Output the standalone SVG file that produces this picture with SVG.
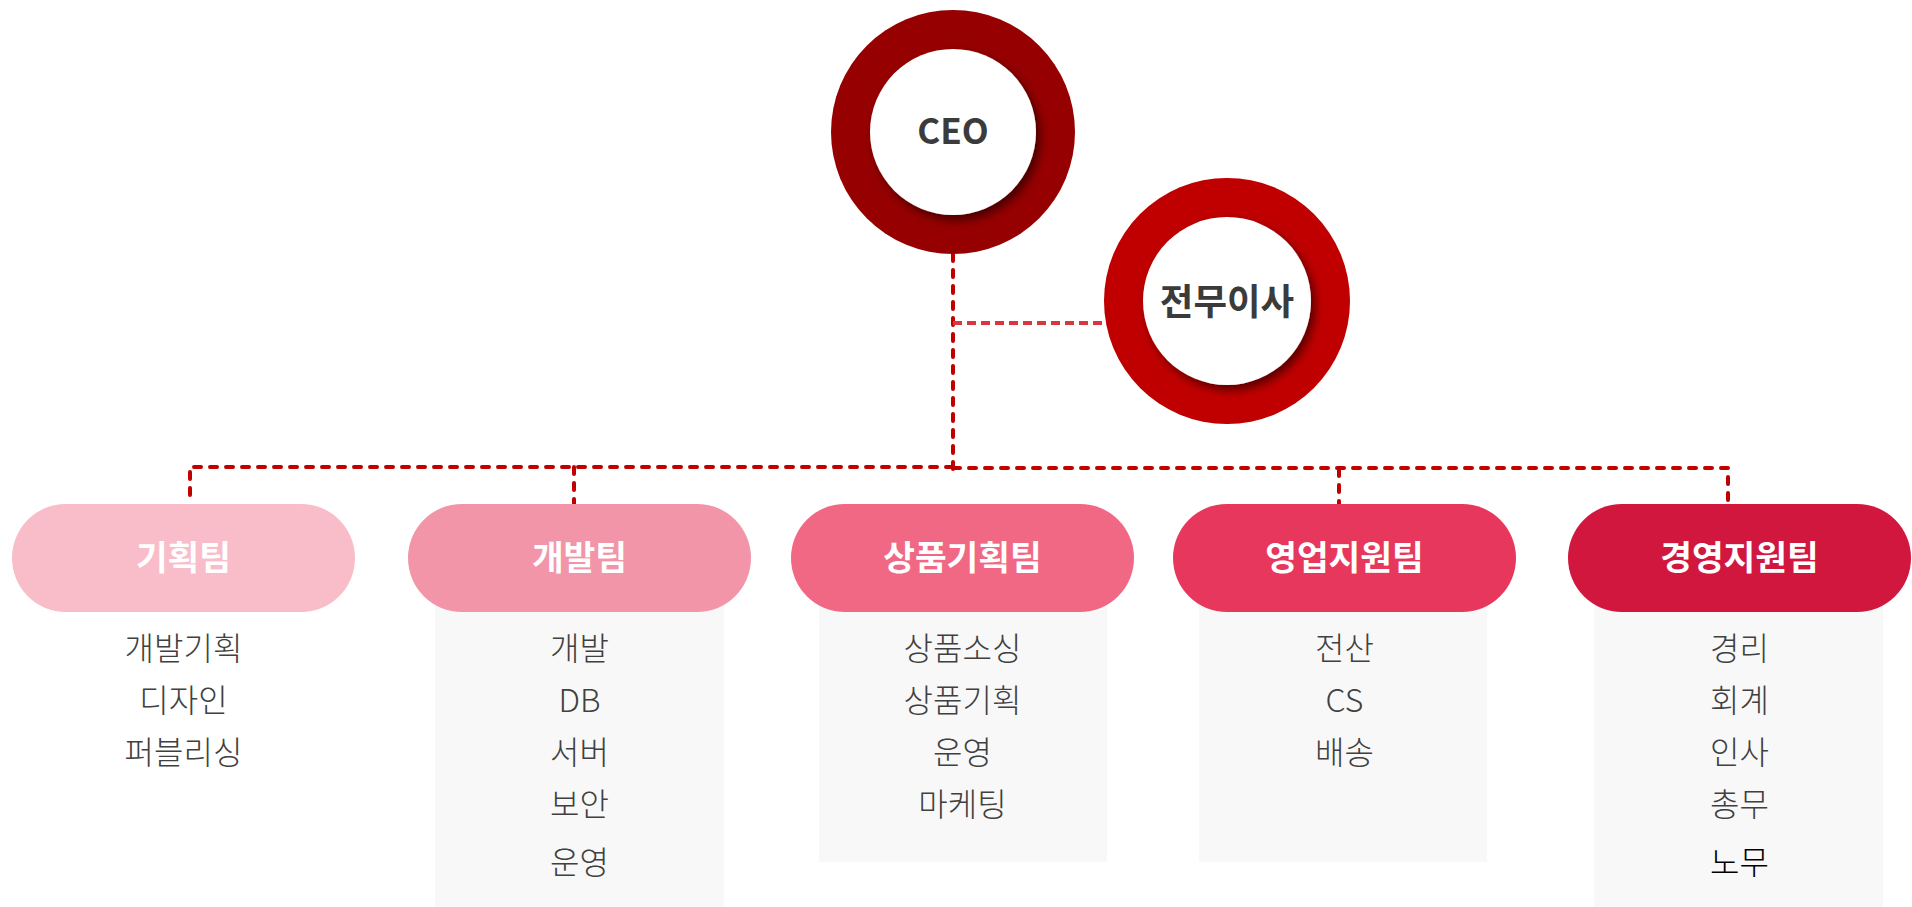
<svg xmlns="http://www.w3.org/2000/svg" width="1912" height="907" viewBox="0 0 1912 907">
  <defs>
    <filter id="sh" x="-30%" y="-30%" width="160%" height="160%">
      <feDropShadow dx="4" dy="5" stdDeviation="5" flood-color="#000" flood-opacity="0.55"/>
    </filter>
    <style>
      .t { font-family: "Noto Sans CJK KR", "Noto Sans", sans-serif; }
      .lbl { font-size: 34.5px; font-weight: 700; fill: #ffffff; text-anchor: middle; }
      .head { font-size: 35px; font-weight: 700; fill: #3b3b3b; text-anchor: middle; }
      .head2 { font-size: 36.5px; }
      .item { font-size: 32px; font-weight: 300; fill: #404040; text-anchor: middle; }
      .box { fill: #f8f8f8; }
      .pill { rx: 54; ry: 54; }
      .conn { fill: none; stroke: #c00000; stroke-width: 4; stroke-dasharray: 7 9; stroke-linecap: round; stroke-linejoin: round; }
      .conn2 { fill: none; stroke: #d9363e; stroke-width: 4; stroke-dasharray: 9 5; }
      .inner { fill: #ffffff; filter: url(#sh); }
    </style>
  </defs>
  <rect width="1912" height="907" fill="#ffffff"/>

  <g id="connectors">
    <path class="conn" d="M953 254 V472"/>
    <path class="conn2" d="M953 323 H1108"/>
    <path class="conn" d="M953 467 H190 V504"/>
    <path class="conn" d="M574 467 V504"/>
    <path class="conn" d="M953 468 H1728 V504"/>
    <path class="conn" d="M1339 469 V504"/>
  </g>

  <g id="ceo">
    <circle cx="953" cy="132" r="122" fill="#960000"/>
    <circle class="inner" cx="953" cy="132" r="83"/>
    <text class="t head" x="953" y="144">CEO</text>
  </g>

  <g id="director">
    <circle cx="1227" cy="301" r="123" fill="#c00000"/>
    <circle class="inner" cx="1227" cy="301" r="84"/>
    <text class="t head head2" x="1227" y="315">전무이사</text>
  </g>

  <g id="team-planning">
    <rect class="pill" x="12" y="504" width="343" height="108" fill="#f8bdc9"/>
    <text class="t lbl" x="183.5" y="570">기획팀</text>
    <text class="t item" x="183.5" y="660">개발기획</text>
    <text class="t item" x="183.5" y="712">디자인</text>
    <text class="t item" x="183.5" y="764">퍼블리싱</text>
  </g>

  <g id="team-dev">
    <rect class="box" x="435" y="558" width="289" height="349"/>
    <rect class="pill" x="408" y="504" width="343" height="108" fill="#f395a8"/>
    <text class="t lbl" x="579.5" y="570">개발팀</text>
    <text class="t item" x="579.5" y="660">개발</text>
    <text class="t item" x="579.5" y="712">DB</text>
    <text class="t item" x="579.5" y="764">서버</text>
    <text class="t item" x="579.5" y="816">보안</text>
    <text class="t item" x="579.5" y="874">운영</text>
  </g>

  <g id="team-product">
    <rect class="box" x="819" y="558" width="288" height="304"/>
    <rect class="pill" x="791" y="504" width="343" height="108" fill="#f16885"/>
    <text class="t lbl" x="962.5" y="570">상품기획팀</text>
    <text class="t item" x="962.5" y="660">상품소싱</text>
    <text class="t item" x="962.5" y="712">상품기획</text>
    <text class="t item" x="962.5" y="764">운영</text>
    <text class="t item" x="962.5" y="816">마케팅</text>
  </g>

  <g id="team-sales">
    <rect class="box" x="1199" y="558" width="288" height="304"/>
    <rect class="pill" x="1173" y="504" width="343" height="108" fill="#e8375d"/>
    <text class="t lbl" x="1344.5" y="570">영업지원팀</text>
    <text class="t item" x="1344.5" y="660">전산</text>
    <text class="t item" x="1344.5" y="712">CS</text>
    <text class="t item" x="1344.5" y="764">배송</text>
  </g>

  <g id="team-management">
    <rect class="box" x="1594" y="558" width="289" height="349"/>
    <rect class="pill" x="1568" y="504" width="343" height="108" fill="#d2173e"/>
    <text class="t lbl" x="1739.5" y="570">경영지원팀</text>
    <text class="t item" x="1739.5" y="660">경리</text>
    <text class="t item" x="1739.5" y="712">회계</text>
    <text class="t item" x="1739.5" y="764">인사</text>
    <text class="t item" x="1739.5" y="816">총무</text>
    <text class="t item" x="1739.5" y="874" style="fill:#000000">노무</text>
  </g>
</svg>
